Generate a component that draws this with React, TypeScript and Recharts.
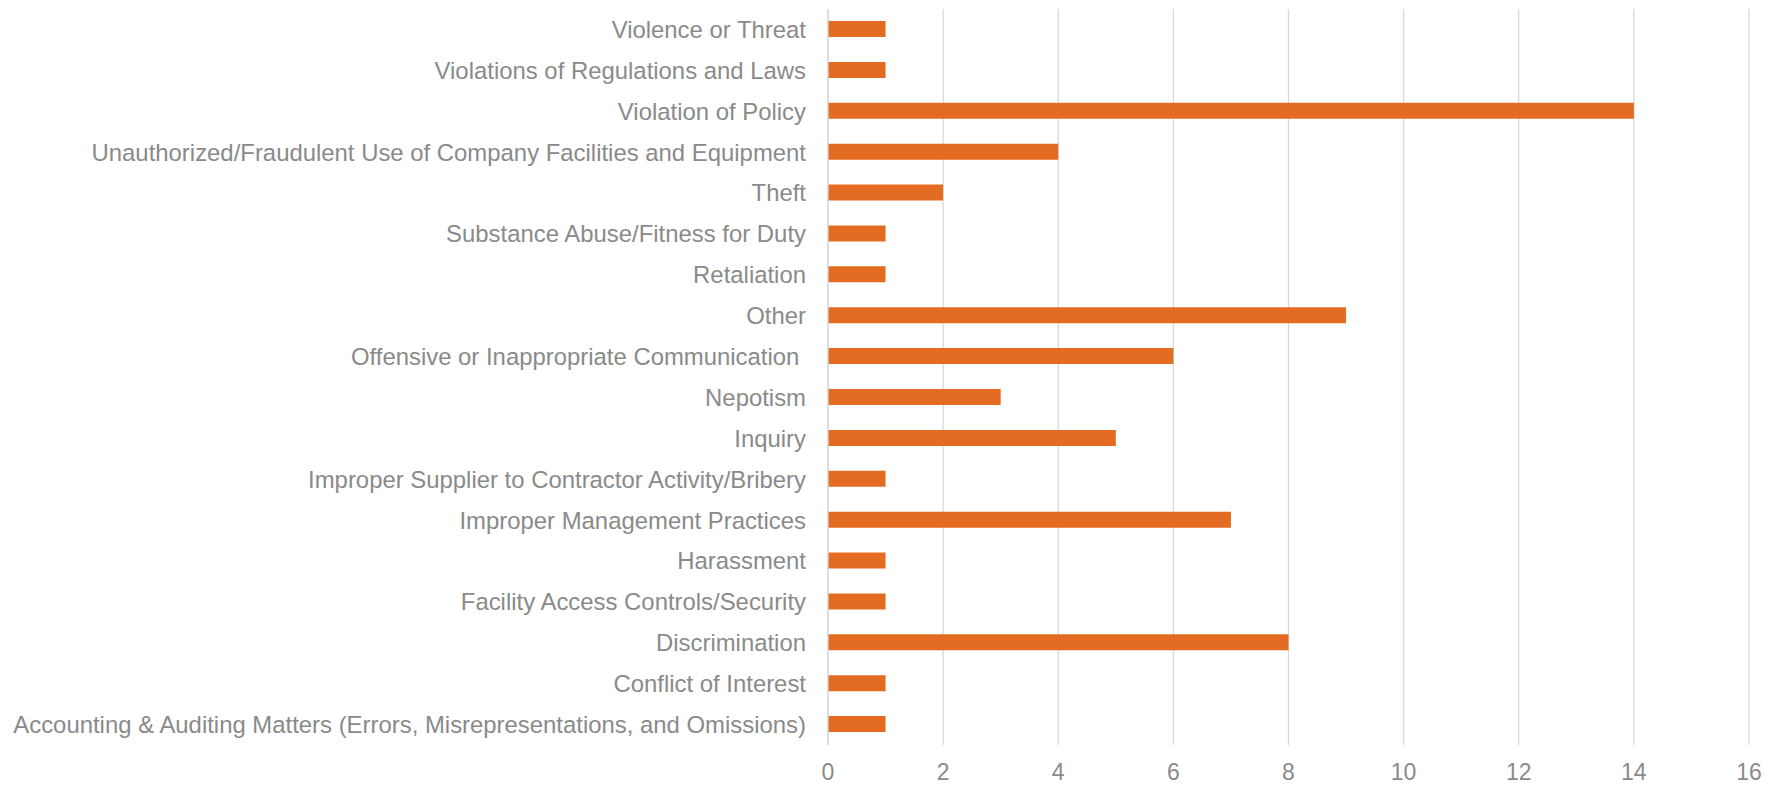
import React from 'react';
import { BarChart, Bar, XAxis, YAxis, CartesianGrid } from 'recharts';

const categories = [
  'Violence or Threat',
  'Violations of Regulations and Laws',
  'Violation of Policy',
  'Unauthorized/Fraudulent Use of Company Facilities and Equipment',
  'Theft',
  'Substance Abuse/Fitness for Duty',
  'Retaliation',
  'Other',
  'Offensive or Inappropriate Communication\u00a0',
  'Nepotism',
  'Inquiry',
  'Improper Supplier to Contractor Activity/Bribery',
  'Improper Management Practices',
  'Harassment',
  'Facility Access Controls/Security',
  'Discrimination',
  'Conflict of Interest',
  'Accounting & Auditing Matters (Errors, Misrepresentations, and Omissions)',
];

const counts = [1, 1, 14, 4, 2, 1, 1, 9, 6, 3, 5, 1, 7, 1, 1, 8, 1, 1];

const xTicks = [0, 2, 4, 6, 8, 10, 12, 14, 16];

const data = categories.map((name, i) => ({ name, value: counts[i] }));

const FONT = '"Liberation Sans", Arial, sans-serif';
const TEXT = '#8a8a8a';

export default function App() {
  return (
    <div style={{ position: 'absolute', left: 0, top: 0 }}>
      <BarChart
        width={1784}
        height={787}
        data={data}
        layout="vertical"
        margin={{ top: 9, right: 35, bottom: 0, left: 0 }}
      >
        <CartesianGrid horizontal={false} stroke="#d9d9d9" strokeWidth={1.3} />
        <XAxis
          type="number"
          domain={[0, 16]}
          ticks={xTicks}
          axisLine={false}
          tickLine={false}
          tickSize={0}
          tickMargin={19}
          height={42}
          interval={0}
          tick={{ fill: TEXT, fontSize: 23, fontFamily: FONT }}
        />
        <YAxis
          type="category"
          dataKey="name"
          width={828}
          axisLine={{ stroke: '#d9d9d9', strokeWidth: 1.3 }}
          tickLine={false}
          tickSize={0}
          tickMargin={22}
          interval={0}
          tick={{ fill: TEXT, fontSize: 23.9, fontFamily: FONT }}
        />
        <Bar dataKey="value" fill="#E46C22" barSize={16} isAnimationActive={false} />
      </BarChart>
    </div>
  );
}
